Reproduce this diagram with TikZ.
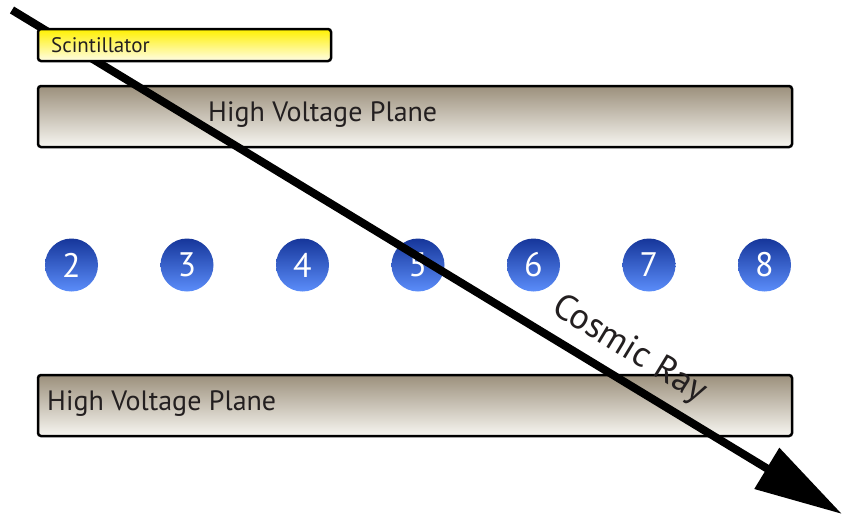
\documentclass[tikz,border=0pt]{standalone}
\usepackage{fontspec}
\setmainfont{PT Sans}
\usetikzlibrary{arrows.meta}
\definecolor{textcol}{HTML}{231F20}
\definecolor{planetop}{HTML}{9C907C}
\definecolor{planebot}{HTML}{F7F6F1}
\definecolor{scinttop}{HTML}{FFF000}
\definecolor{scintbot}{HTML}{FFFDE6}
\definecolor{balltop}{HTML}{16369A}
\definecolor{ballbot}{HTML}{5B8DFA}

\begin{document}
\begin{tikzpicture}[x=1pt,y=-1pt,
	plane/.style={draw=black,line width=2.5pt,rounded corners=3pt,top color=planetop,bottom color=planebot},
	planelabel/.style={anchor=west,inner sep=0pt,text=textcol,font=\fontsize{28}{28}\selectfont},
	ball/.style={circle,minimum size=53pt,inner sep=0pt,top color=balltop,bottom color=ballbot,text=white,font=\fontsize{34}{34}\selectfont}]
\useasboundingbox (0,0) rectangle (843,520);
% high voltage planes
\foreach \top/\lx [count=\i] in {86/208, 375/47}{
	\shade[plane] (38,\top) rectangle (792,\top+61);
	\node[planelabel] (hv\i) at (\lx,\top+29) {High Voltage Plane};
	}
% wires
\foreach \n [count=\i from 0] in {2,...,8}{
	\node[ball] (w\n) at ({71.5+115.5*\i},265) {\n};
	}
% the ray
\coordinate (rayin) at (12,10);
\coordinate (rayout) at (842,514);
\draw[line width=8pt,-{Triangle[length=88pt,width=46pt]}] (rayin) -- (rayout);
\path (rayin) -- (rayout) node[pos=0.725,sloped,above=13pt,inner sep=0pt,text=textcol,font=\fontsize{36}{36}\selectfont] (raylabel) {Cosmic Ray};
% scintillator paddle, on top of the ray
\shade[plane,top color=scinttop,bottom color=scintbot] (38,29) rectangle (331,61);
\node[planelabel,font=\fontsize{21}{21}\selectfont] (scint) at (51,45) {Scintillator};
\end{tikzpicture}
\end{document}
